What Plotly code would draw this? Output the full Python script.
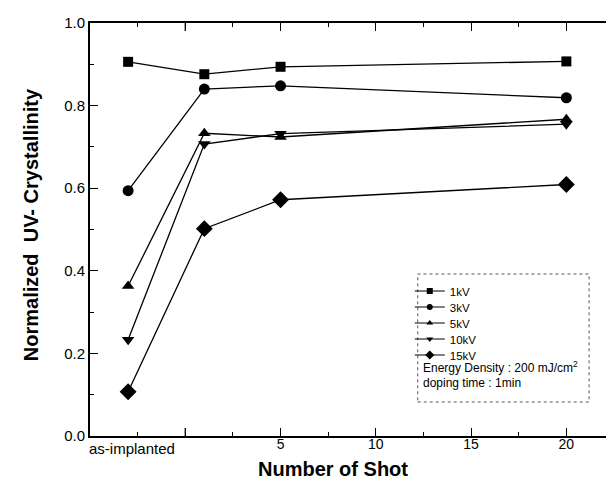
import plotly.graph_objects as go

# ---- data ----
shots = [-3, 1, 5, 20]          # -3 = "as-implanted" position
series_names = ["1kV", "3kV", "5kV", "10kV", "15kV"]
v_1kV = [0.906, 0.876, 0.894, 0.907]
v_3kV = [0.594, 0.840, 0.848, 0.819]
v_5kV = [0.363, 0.733, 0.724, 0.767]
v_10kV = [0.233, 0.707, 0.732, 0.755]
v_15kV = [0.107, 0.502, 0.572, 0.609]
x_ticks = [5, 10, 15, 20]
x_ticktext = ["5", "10", "15", "20"]
y_ticks = [0.0, 0.2, 0.4, 0.6, 0.8, 1.0]

values = [v_1kV, v_3kV, v_5kV, v_10kV, v_15kV]
symbols = ["square", "circle", "triangle-up", "triangle-down", "diamond"]
sizes = [10, 11, 11, 11, 13]

FONT = "Arial, Liberation Sans, sans-serif"

# plot-area geometry (px)
W, H = 614, 480
L, R, T, B = 82, 6, 15, 52
PW, PH = W - L - R, H - T - B

def px_x(px):
    return (px - L) / PW

def px_y(py):
    return (H - B - py) / PH

fig = go.Figure()
for name, vals, sym, sz in zip(series_names, values, symbols, sizes):
    fig.add_trace(go.Scatter(
        x=shots, y=vals, mode="lines+markers", name=name, showlegend=False,
        line=dict(color="black", width=1.3),
        marker=dict(symbol=sym, size=sz, color="black"),
    ))

# legend-only entries (one legend each for precise spacing)
leg_y0 = 283
for i, (name, sym) in enumerate(zip(series_names, symbols)):
    lname = "legend" if i == 0 else f"legend{i+1}"
    fig.add_trace(go.Scatter(
        x=[None], y=[None], mode="lines+markers", name=name, legend=lname,
        line=dict(color="black", width=1.2),
        marker=dict(symbol=sym, size=6 if sym != "diamond" else 7, color="black"),
    ))

legends = {}
for i in range(5):
    lname = "legend" if i == 0 else f"legend{i+1}"
    legends[lname] = dict(
        x=px_x(403), y=px_y(leg_y0 + 16 * i), xanchor="left", yanchor="middle",
        bgcolor="rgba(0,0,0,0)", borderwidth=0, itemwidth=30,
        font=dict(family=FONT, size=11.5, color="black"),
    )

fig.update_layout(
    width=W, height=H,
    margin=dict(l=L, r=R, t=T, b=B),
    paper_bgcolor="white", plot_bgcolor="white",
    font=dict(family=FONT, color="black"),
    showlegend=True,
    **legends,
)

fig.update_xaxes(
    range=[-5, 22.5], tickmode="array", tickvals=x_ticks, ticktext=x_ticktext,
    ticks="inside", ticklen=8, tickwidth=1.3, tickcolor="black",
    ticklabelstandoff=-6,
    minor=dict(tickmode="linear", tick0=-2.5, dtick=2.5, ticks="inside",
               ticklen=4, tickwidth=1.2, tickcolor="black", showgrid=False),
    showline=True, linecolor="black", linewidth=1.8, mirror="ticks",
    showgrid=False, zeroline=False,
    tickfont=dict(family=FONT, size=14, color="black"),
)
fig.update_yaxes(
    range=[0, 1], tickmode="array", tickvals=y_ticks,
    tickformat=".1f",
    ticks="inside", ticklen=8, tickwidth=1.3, tickcolor="black",
    minor=dict(tickmode="linear", tick0=0.1, dtick=0.1, ticks="inside",
               ticklen=4, tickwidth=1.2, tickcolor="black", showgrid=False),
    showline=True, linecolor="black", linewidth=1.8, mirror="ticks",
    showgrid=False, zeroline=False,
    tickfont=dict(family=FONT, size=15, color="black"),
)

# unlabeled major tick at 0 (bottom and top)
for y0, y1 in [(0, 8 / PH), (1, 1 - 8 / PH)]:
    fig.add_shape(type="line", xref="x", yref="paper", x0=0, x1=0, y0=y0, y1=y1,
                  line=dict(color="black", width=1.3))

# legend box
fig.add_shape(type="rect", xref="paper", yref="paper",
              x0=px_x(411), x1=px_x(583), y0=px_y(394), y1=px_y(266),
              line=dict(color="#555555", width=1, dash="dot"), fillcolor="rgba(0,0,0,0)")

# annotations
fig.add_annotation(x=-2.8, xref="x", y=px_y(440), yref="paper", xanchor="center",
                   yanchor="middle",
                   text="as-implanted", showarrow=False,
                   font=dict(family=FONT, size=15, color="black"))
fig.add_annotation(x=px_x(326), xref="paper", y=px_y(461), yref="paper",
                   xanchor="center", yanchor="middle",
                   text="<b>Number of Shot</b>", showarrow=False,
                   font=dict(family=FONT, size=20, color="black"))
fig.add_annotation(x=px_x(23), xref="paper", y=px_y(217), yref="paper",
                   xanchor="center", yanchor="middle",
                   text="<b>Normalized  UV- Crystallinity</b>", textangle=-90,
                   showarrow=False, font=dict(family=FONT, size=20, color="black"))
fig.add_annotation(x=px_x(414), xref="paper", y=px_y(369), yref="paper",
                   xanchor="left", text="Energy Density : 200 mJ/cm<sup>2</sup>",
                   showarrow=False, font=dict(family=FONT, size=12, color="black"))
fig.add_annotation(x=px_x(414), xref="paper", y=px_y(384), yref="paper",
                   xanchor="left", text="doping time : 1min",
                   showarrow=False, font=dict(family=FONT, size=12, color="black"))

fig.write_html("out.html")
